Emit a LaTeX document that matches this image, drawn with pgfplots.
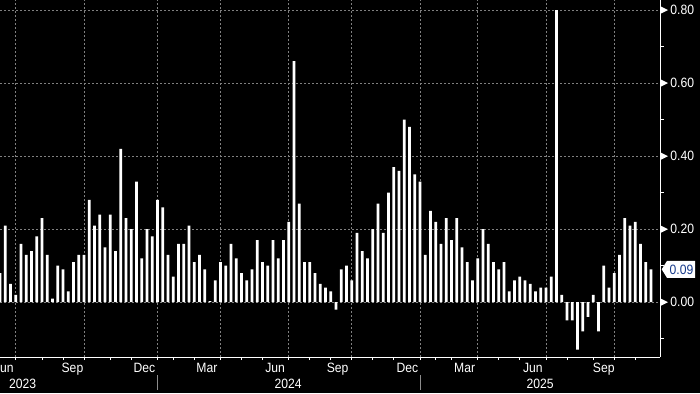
\documentclass[border=0pt]{standalone}
\usepackage{fontspec}
\setmainfont[FakeStretch=0.9]{Liberation Sans}
\usepackage{pgfplots}
\pgfplotsset{compat=1.18}
\usepackage{pgfplotstable}
\definecolor{gridgray}{RGB}{128,128,128}
\definecolor{sepgray}{RGB}{140,140,140}
\definecolor{tagblue}{RGB}{25,60,140}
\newcommand\lbl{\fontsize{6.75pt}{8pt}\selectfont}

\pgfplotstableread{
x y
0 0.08
1 0.21
2 0.05
3 0.02
4 0.16
5 0.13
6 0.14
7 0.18
8 0.23
9 0.13
10 0.01
11 0.10
12 0.09
13 0.03
14 0.11
15 0.13
16 0.13
17 0.28
18 0.21
19 0.24
20 0.15
21 0.24
22 0.14
23 0.42
24 0.23
25 0.20
26 0.33
27 0.12
28 0.20
29 0.18
30 0.28
31 0.26
32 0.13
33 0.07
34 0.16
35 0.16
36 0.21
37 0.11
38 0.13
39 0.09
40 0.003
41 0.06
42 0.11
43 0.10
44 0.16
45 0.12
46 0.08
47 0.06
48 0.09
49 0.17
50 0.11
51 0.10
52 0.17
53 0.12
54 0.17
55 0.22
56 0.66
57 0.27
58 0.11
59 0.11
60 0.08
61 0.05
62 0.04
63 0.03
64 -0.02
65 0.09
66 0.10
67 0.06
68 0.19
69 0.14
70 0.12
71 0.20
72 0.27
73 0.19
74 0.30
75 0.37
76 0.36
77 0.50
78 0.48
79 0.35
80 0.33
81 0.13
82 0.25
83 0.22
84 0.16
85 0.23
86 0.17
87 0.23
88 0.15
89 0.11
90 0.06
91 0.12
92 0.20
93 0.16
94 0.11
95 0.09
96 0.11
97 0.03
98 0.06
99 0.07
100 0.06
101 0.05
102 0.03
103 0.04
104 0.04
105 0.07
106 0.80
107 0.02
108 -0.05
109 -0.05
110 -0.13
111 -0.08
112 -0.04
113 0.02
114 -0.08
115 0.10
116 0.04
117 0.08
118 0.13
119 0.23
120 0.21
121 0.22
122 0.16
123 0.11
124 0.09
}\datatable

\begin{document}
\begin{tikzpicture}
\fill[black] (0pt,-18pt) rectangle (350pt,178.5pt);
\begin{axis}[
  at={(0pt,0pt)}, anchor=south west,
  scale only axis, width=330pt, height=178.5pt,
  xmin=0, xmax=125.714, ymin=-0.15, ymax=0.8275,
  clip=false,
  axis x line*=bottom, axis y line*=right,
  axis line style={white, line width=0.5pt},
  xtick={3,16,30,42,55,67,80,91,104,117},
  minor xtick={8,12,21,25,33,37,46,50,59,63,71,75,83,86,95,99,108,113,121},
  xticklabels={},
  tick align=outside,
  major tick length=1.5pt, minor tick length=1.5pt,
  tick style={white, line width=0.5pt},
  xmajorgrids,
  ytick={0,0.2,0.4,0.6,0.8}, yticklabels={},
  ytick style={draw=none},
  ymajorgrids,
  major grid style={gridgray, line width=0.5pt, dash pattern=on 1pt off 1pt},
]
\addplot[ybar, bar width=0.5, fill=white, draw=none] table[x=x, y=y] {\datatable};

% right axis ticks and labels
\pgfplotsinvokeforeach{-0.10,0.10,0.30,0.50,0.70}{
  \draw[white, line width=0.5pt] (axis cs:125.714,#1) -- ++(2pt,0pt);
}
\pgfplotsinvokeforeach{0.00,0.20,0.40,0.60,0.80}{
  \draw[white, line width=0.5pt] (axis cs:125.714,#1) -- ++(1.5pt,0pt);
  \fill[white] ([xshift=0.6pt]axis cs:125.714,#1) -- ++(0pt,1.7pt) -- ++(3.4pt,-1.7pt) -- ++(-3.4pt,-1.7pt) -- cycle;
  \node[anchor=west, inner sep=0pt, text=white, font=\lbl] at ([xshift=5pt]axis cs:125.714,#1) {#1};
}
% last value tag
\fill[white] ([xshift=0.85pt]axis cs:125.714,0.09) -- ++(2.65pt,4.25pt) -- ++(14pt,0pt) -- ++(0pt,-8.5pt) -- ++(-14pt,0pt) -- cycle;
\node[anchor=west, inner sep=0pt, text=tagblue, font=\lbl] at ([xshift=4.65pt]axis cs:125.714,0.09) {0.09};

% month labels
\node[anchor=base, inner sep=0pt, text=white, font=\lbl] at ([yshift=-7.85pt]axis cs:0.75,-0.15) {Jun};
\node[anchor=base, inner sep=0pt, text=white, font=\lbl] at ([yshift=-7.85pt]axis cs:13.8,-0.15) {Sep};
\node[anchor=base, inner sep=0pt, text=white, font=\lbl] at ([yshift=-7.85pt]axis cs:27.5,-0.15) {Dec};
\node[anchor=base, inner sep=0pt, text=white, font=\lbl] at ([yshift=-7.85pt]axis cs:39.4,-0.15) {Mar};
\node[anchor=base, inner sep=0pt, text=white, font=\lbl] at ([yshift=-7.85pt]axis cs:52.4,-0.15) {Jun};
\node[anchor=base, inner sep=0pt, text=white, font=\lbl] at ([yshift=-7.85pt]axis cs:64.3,-0.15) {Sep};
\node[anchor=base, inner sep=0pt, text=white, font=\lbl] at ([yshift=-7.85pt]axis cs:77.6,-0.15) {Dec};
\node[anchor=base, inner sep=0pt, text=white, font=\lbl] at ([yshift=-7.85pt]axis cs:88.5,-0.15) {Mar};
\node[anchor=base, inner sep=0pt, text=white, font=\lbl] at ([yshift=-7.85pt]axis cs:101.5,-0.15) {Jun};
\node[anchor=base, inner sep=0pt, text=white, font=\lbl] at ([yshift=-7.85pt]axis cs:115,-0.15) {Sep};
% year labels
\node[anchor=base, inner sep=0pt, text=white, font=\lbl] at ([yshift=-15.5pt]axis cs:4.3,-0.15) {2023};
\node[anchor=base, inner sep=0pt, text=white, font=\lbl] at ([yshift=-15.5pt]axis cs:54.9,-0.15) {2024};
\node[anchor=base, inner sep=0pt, text=white, font=\lbl] at ([yshift=-15.5pt]axis cs:102.9,-0.15) {2025};
% year separators
\draw[sepgray, line width=0.5pt] ([yshift=-9pt]axis cs:30,-0.15) -- ([yshift=-16.5pt]axis cs:30,-0.15);
\draw[sepgray, line width=0.5pt] ([yshift=-9pt]axis cs:80,-0.15) -- ([yshift=-16.5pt]axis cs:80,-0.15);
\end{axis}
\pgfresetboundingbox
\path[use as bounding box] (0pt,-18pt) rectangle (350pt,178.5pt);
\end{tikzpicture}
\end{document}
